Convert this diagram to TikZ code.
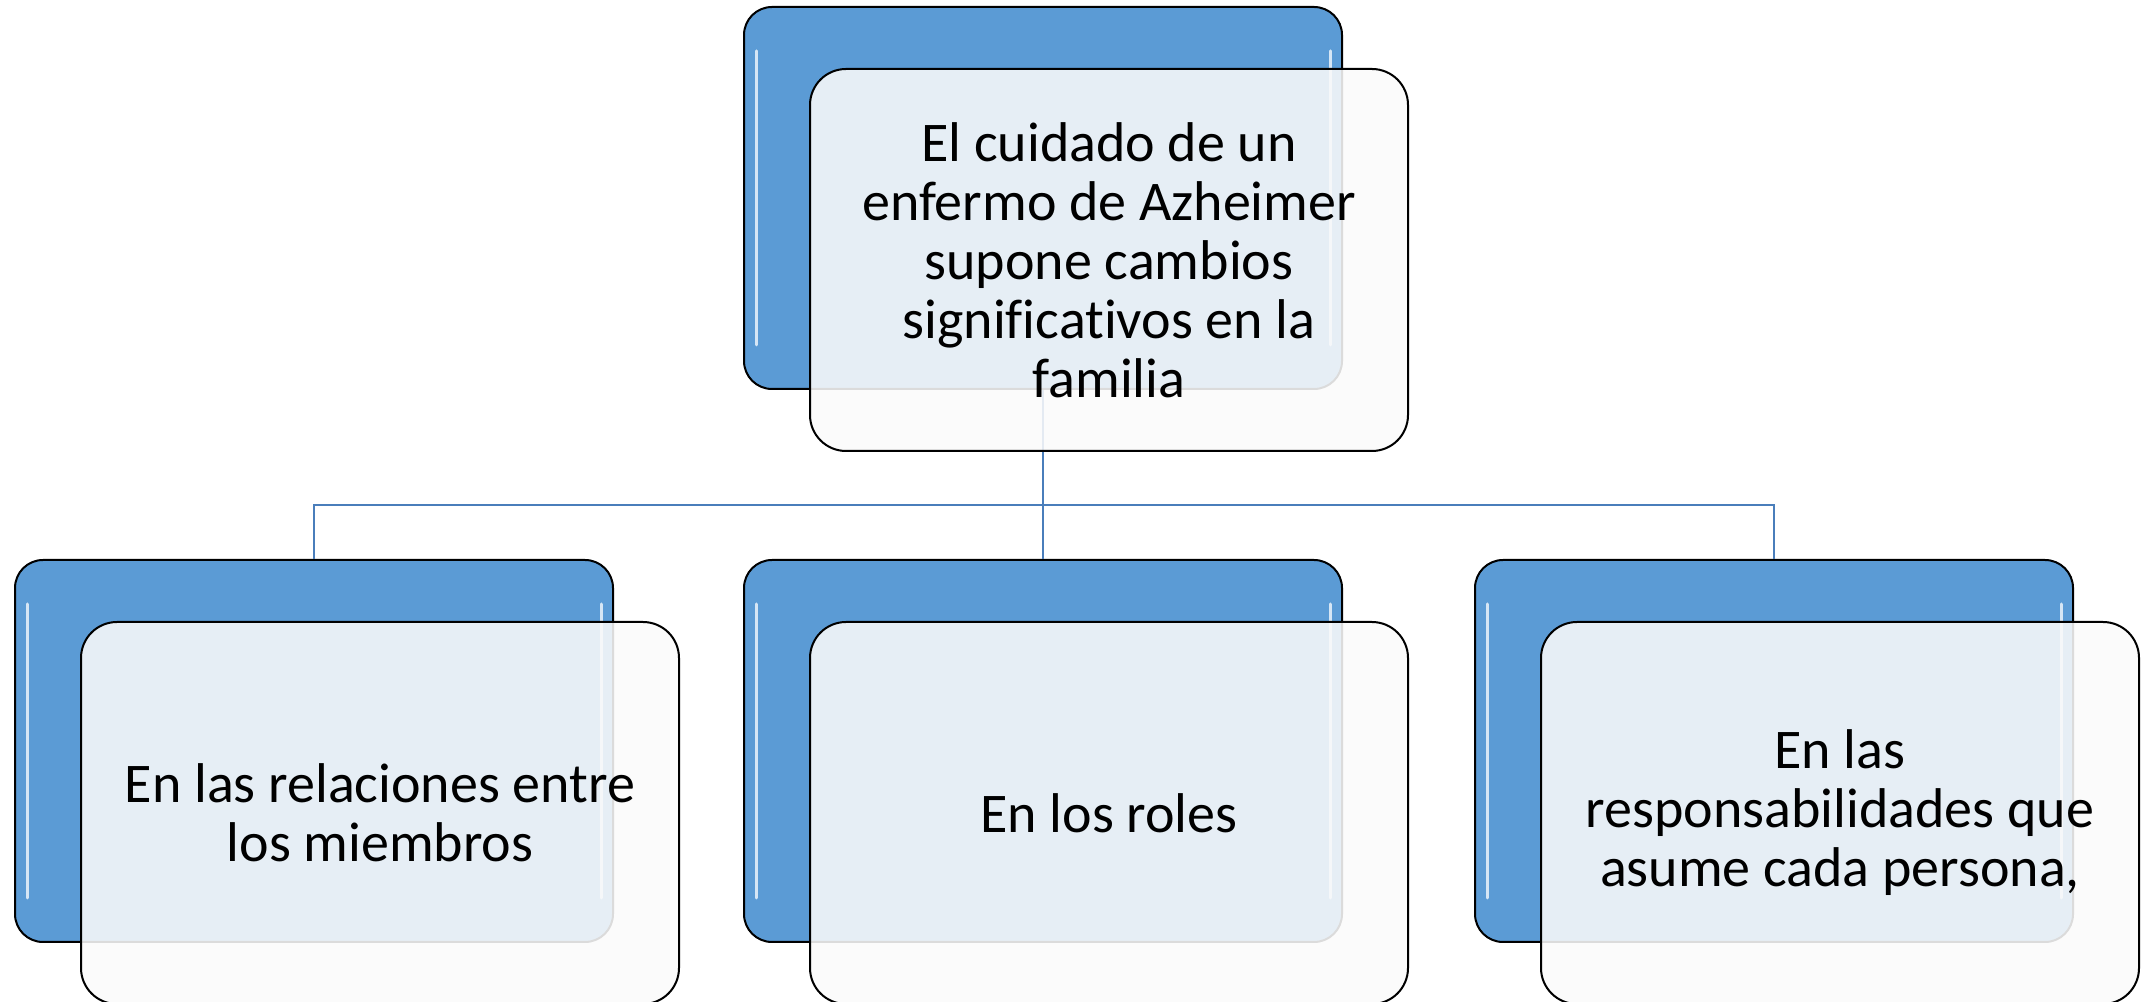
\documentclass[tikz,border=0pt]{standalone}
\usepackage{fontspec}
\setmainfont{Carlito}[RawFeature={-liga,-clig,-dlig}]
\usetikzlibrary{positioning}

\definecolor{boxblue}{RGB}{91,155,213}
\definecolor{linkblue}{RGB}{74,126,187}
\definecolor{cardfill}{RGB}{250,250,250}

\tikzset{
    back/.style={draw=black, line width=1pt, fill=boxblue, rounded corners=14pt,
        minimum width=299pt, minimum height=191pt, inner sep=0pt,
        path picture={
            \draw[white!75!boxblue, line width=1.5pt, line cap=round]
                ([xshift=6pt,yshift=-22pt]path picture bounding box.north west) --
                ([xshift=6pt,yshift=22pt]path picture bounding box.south west);
            \draw[white!75!boxblue, line width=1.5pt, line cap=round]
                ([xshift=-6pt,yshift=-22pt]path picture bounding box.north east) --
                ([xshift=-6pt,yshift=22pt]path picture bounding box.south east);
        }},
    card/.style={draw=black, line width=1pt, fill=cardfill, fill opacity=0.88,
        text opacity=1, rounded corners=18pt,
        minimum width=299pt, minimum height=191pt, inner sep=0pt,
        align=center, font=\fontsize{28}{29.5}\selectfont},
    link/.style={draw=linkblue, line width=1pt}
}

\begin{document}
\begin{tikzpicture}[x=0.5pt, y=0.5pt]
    \useasboundingbox (0,0) rectangle (2141,1001);

    % rejilla de fondo (cajas azules)
    \node[back] (top) at (1043,803) {};
    \node[back] (rel) at (314,250) {};
    \node[back] (rol) at (1043,250) {};
    \node[back] (res) at (1774,250) {};

    % conectores
    \coordinate (bar) at (1043,496);
    \draw[link] (top.south) -- (bar);
    \draw[link] (rel.north) |- (bar) -| (res.north);
    \draw[link] (rol.north) -- (bar);

    % tarjetas delanteras
    \node[card] (topc) at (1109,741) {El cuidado de un\\enfermo de Azheimer\\supone cambios\\significativos en la\\familia};
    \node[card] (relc) at (380,188) {En las relaciones entre\\los miembros};
    \node[card] (rolc) at (1109,188) {En los roles};
    \node[card] (resc) at (1840,188) {En las\\responsabilidades que\\asume cada persona,};
\end{tikzpicture}
\end{document}
